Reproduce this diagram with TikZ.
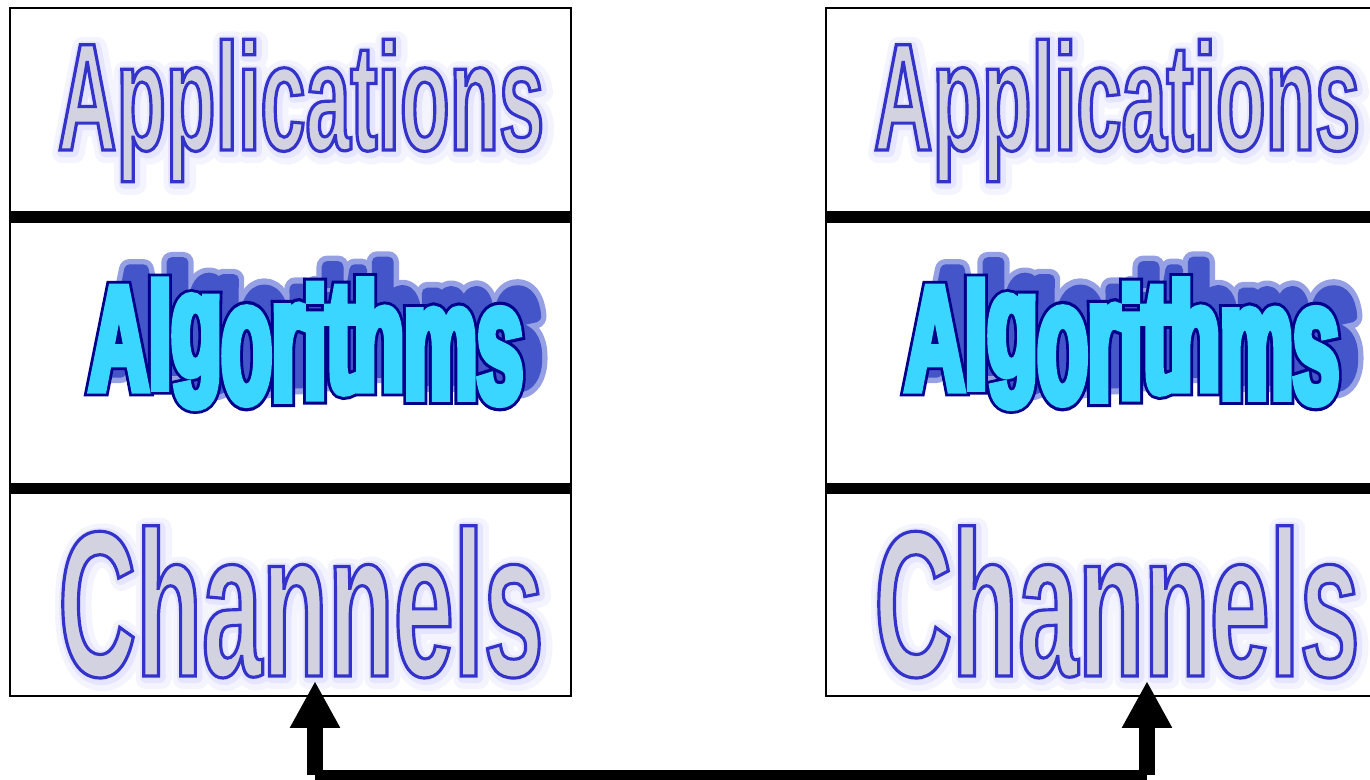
\documentclass[tikz,border=0pt]{standalone}
\usepackage{fontspec}
\usetikzlibrary{arrows.meta}

\newfontfamily\appfont{Liberation Sans}[FakeStretch=0.53]
\newfontfamily\chanfont{Liberation Sans}[FakeStretch=0.52]
\newfontfamily\algofont{Liberation Sans}[FakeStretch=0.55]

\definecolor{wordfill}{RGB}{210,210,224}
\definecolor{wordhalo}{RGB}{230,230,255}
\definecolor{wordmist}{RGB}{244,244,255}
\definecolor{algofill}{RGB}{58,214,255}
\definecolor{algoline}{RGB}{0,0,140}
\definecolor{algoshade}{RGB}{67,85,200}
\definecolor{algohalo}{RGB}{150,160,228}

% text filled with #4 and stroked with rgb #1, width #2 bp, join #3
\newcommand\textrender[5]{%
  {\color{#4}\special{pdf:literal direct #1 RG #3 2 Tr #2 w}#5\special{pdf:literal direct 0 Tr}}}

% outlined word with a soft glow
\newcommand\glowword[1]{%
  \rlap{\hspace{1.5pt}\raisebox{-1.5pt}{\textrender{0.957 0.957 1}{12}{1 j}{wordmist}{#1}}}%
  \rlap{\hspace{1pt}\raisebox{-1pt}{\textrender{0.9 0.9 1}{6}{1 j}{wordhalo}{#1}}}%
  \textrender{0.2 0.2 0.8}{1.8}{0 j 3 M}{wordfill}{#1}}

% heavy outlined word with a shadow behind, up and right
\newcommand\shadeword[1]{%
  \rlap{\hspace{10pt}\raisebox{10pt}{\textrender{0.59 0.63 0.89}{12}{1 j}{algohalo}{#1}}}%
  \rlap{\hspace{10pt}\raisebox{10pt}{\textrender{0.263 0.333 0.784}{6}{1 j}{algoshade}{#1}}}%
  \rlap{\textrender{0 0 0.55}{7.2}{0 j 3 M}{algoline}{#1}}%
  \textrender{0.227 0.839 1}{4}{0 j 3 M}{algofill}{#1}}

% one letter of the wave
\newcommand\wv[3]{\raisebox{#1}{\scalebox{1}[#2]{#3}}}
\newcommand\algoletters{\wv{0pt}{1}{A}\wv{1pt}{1}{l}\wv{8pt}{1}{g}\wv{-7pt}{1.17}{o}\wv{-5.5pt}{1.17}{r}\wv{-4.5pt}{1.05}{i}\wv{-1pt}{1.07}{t}\wv{0pt}{1.02}{h}\wv{-4.5pt}{1.1}{m}\wv{-7pt}{1.16}{s}}

\begin{document}
\begin{tikzpicture}[x=0.02cm, y=-0.02cm,
    stack/.style={draw, line width=0.8pt, minimum width=11.22cm, minimum height=13.76cm, inner sep=0pt},
    divider/.style={line width=6.8pt},
    appword/.style={anchor=base, inner sep=0pt, font=\appfont\bfseries\fontsize{87pt}{90pt}\selectfont},
    chanword/.style={anchor=base, inner sep=0pt, font=\chanfont\bfseries\fontsize{118pt}{120pt}\selectfont},
    algoword/.style={anchor=base, inner sep=0pt, font=\algofont\bfseries\fontsize{85pt}{90pt}\selectfont},
    bus/.style={line width=5.7pt},
    riser/.style={line width=9pt, -{Triangle[width=0.94cm, length=0.94cm]}}
]
\useasboundingbox (0,0) rectangle (1370,780);
\clip (0,0) rectangle (1370,780);

% left stack
\node[stack] (lstack) at (290.5,352) {};
\draw[divider] (lstack.west |- 0,217) -- (lstack.east |- 0,217);
\draw[divider] (lstack.west |- 0,488.5) -- (lstack.east |- 0,488.5);
\node[appword] (lapp) at (301,150) {\glowword{Applications}};
\node[algoword] (lalgo) at (306,390) {\shadeword{\algoletters}};
\node[chanword] (lchan) at (301,676) {\glowword{Channels}};

% right stack
\node[stack] (rstack) at (1106.5,352) {};
\draw[divider] (rstack.west |- 0,217) -- (rstack.east |- 0,217);
\draw[divider] (rstack.west |- 0,488.5) -- (rstack.east |- 0,488.5);
\node[appword] (rapp) at (1117,150) {\glowword{Applications}};
\node[algoword] (ralgo) at (1122,390) {\shadeword{\algoletters}};
\node[chanword] (rchan) at (1117,676) {\glowword{Channels}};

% link between the channels
\coordinate (lport) at (315,681);
\coordinate (rport) at (1147,681);
\coordinate (lfoot) at (lport |- 0,775);
\coordinate (rfoot) at (rport |- 0,775);
\draw[bus] (lfoot) -- (rfoot);
\draw[riser] (lfoot) -- (lport);
\draw[riser] (rfoot) -- (rport);

\end{tikzpicture}
\end{document}
